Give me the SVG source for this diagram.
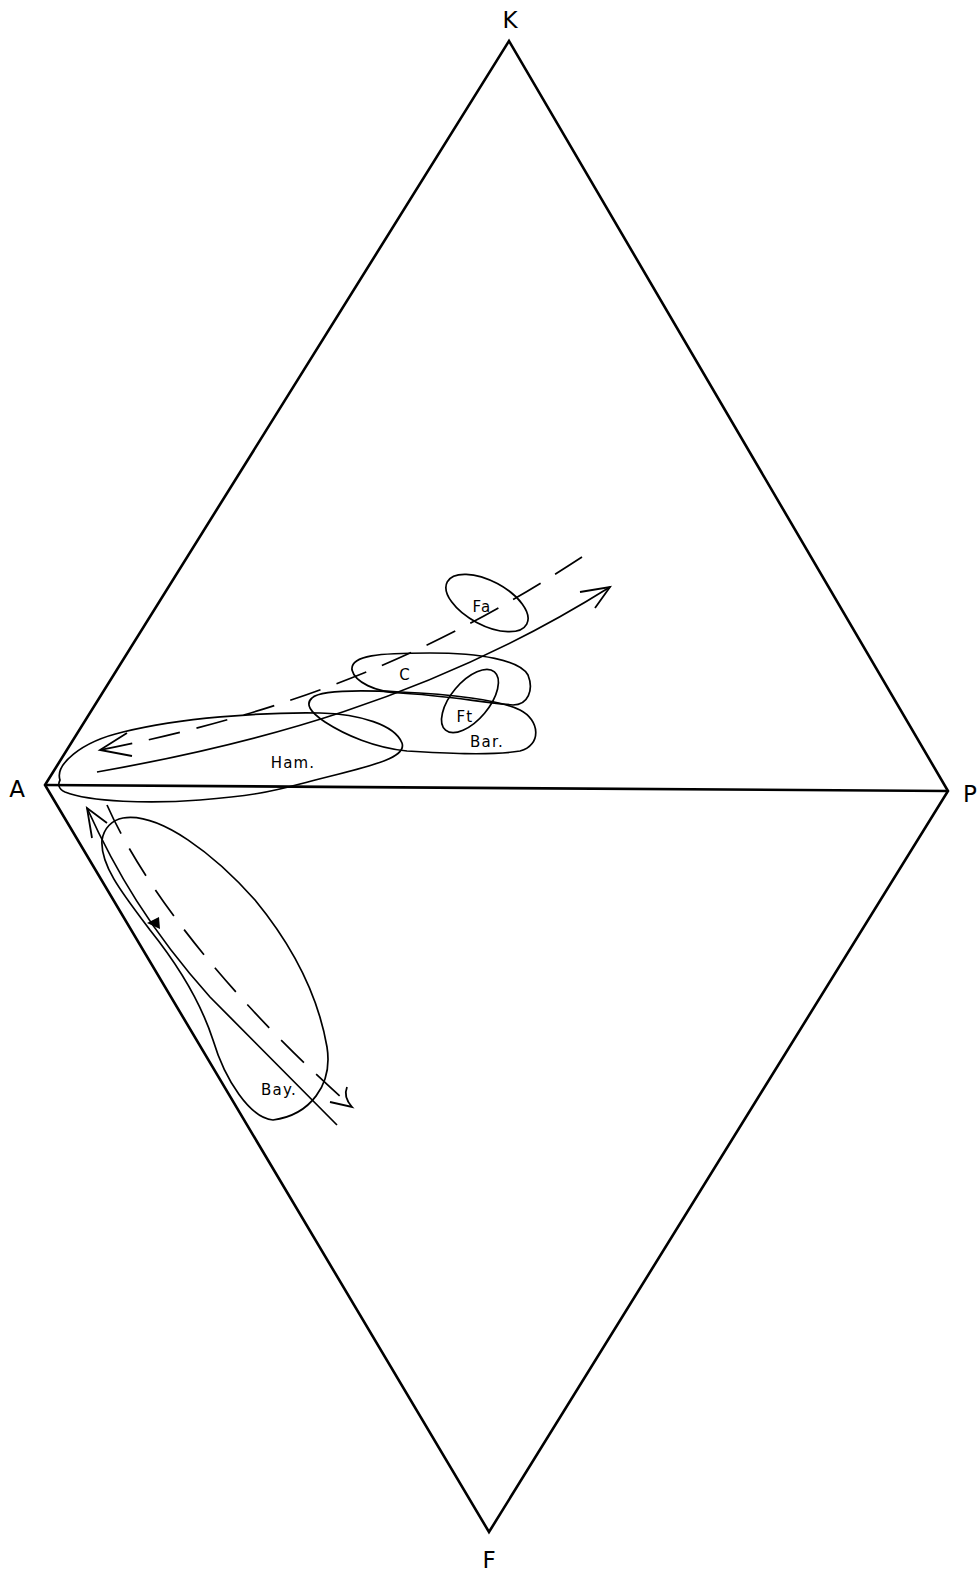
<svg xmlns="http://www.w3.org/2000/svg" width="980" height="1574" viewBox="0 0 980 1574">
<style>
.frame{fill:none;stroke:#000;stroke-width:2.6;stroke-linejoin:miter}
.field{fill:none;stroke:#000;stroke-width:1.7;stroke-linejoin:round}
.conn{fill:none;stroke:#000;stroke-width:1.7}
.dash{stroke-dasharray:32 17}
.head{fill:none;stroke:#000;stroke-width:1.8;stroke-linejoin:miter}
.vlab{font-family:"DejaVu Sans","Liberation Sans",sans-serif;font-size:23px;fill:#000;text-anchor:middle}
.flab{font-family:"DejaVu Sans","Liberation Sans",sans-serif;font-size:15px;fill:#000;text-anchor:middle;letter-spacing:1.2px}
</style>
<rect width="980" height="1574" fill="#fff"/>
<g id="frame">
<path class="frame" d="M45,785 L509,41 L948,791 L489,1532 Z"/>
<line class="frame" x1="45" y1="785" x2="948" y2="791"/>
<text class="vlab" x="510" y="28">K</text>
<text class="vlab" x="17" y="797">A</text>
<text class="vlab" x="970" y="802">P</text>
<text class="vlab" x="489" y="1568">F</text>
</g>
<g id="ham">
<path class="field" d="M60,780 C55,765 80,742 123,732 C180,718 260,712 320,713 C360,714 395,725 402,743 C408,760 360,768 300,784 C270,792 250,796 200,800 C150,804 90,802 65,792 C58,789 58,784 60,780 Z"/>
<text class="flab" x="293" y="768">Ham.</text>
</g>
<g id="bar">
<path class="field" d="M312,698 C320,690 360,690 400,692 C450,694 500,700 520,710 C540,720 542,745 520,751 C490,756 440,753 407,751 C375,748 345,735 325,722 C310,712 305,704 312,698 Z"/>
<text class="flab" x="487" y="747">Bar.</text>
</g>
<g id="c">
<path class="field" d="M352,670 C350,655 380,653 430,653 C480,653 520,660 528,675 C534,690 528,705 513,705 C480,702 440,695 400,693 C375,692 355,682 352,670 Z"/>
<text class="flab" x="405" y="680">C</text>
</g>
<g id="ft">
<ellipse class="field" cx="470" cy="701" rx="38" ry="19" transform="rotate(-50 470 701)"/>
<text class="flab" x="465" y="722">Ft</text>
</g>
<g id="fa">
<ellipse class="field" cx="487" cy="603" rx="45" ry="22" transform="rotate(28 487 603)"/>
<text class="flab" x="482" y="612">Fa</text>
</g>
<g id="bay">
<path class="field" d="M123,818 C160,812 215,855 255,900 C292,945 318,995 327,1047 C333,1085 310,1115 273,1120 C250,1118 225,1080 213,1040 C200,1000 178,965 150,930 C122,893 100,865 102,840 C104,828 112,820 123,818 Z"/>
<text class="flab" x="279" y="1095">Bay.</text>
</g>
<g id="connectors">
<path class="conn dash" d="M582,557 C470,630 330,705 100,750"/>
<path class="head" d="M127,733 L100,750 L132,756"/>
<path class="conn" d="M97,772 C250,745 430,700 610,587"/>
<path class="head" d="M580,592 L610,587 L595,608"/>
<path class="conn" d="M87,808 C115,870 150,930 210,997 L337,1125"/>
<path class="head" d="M92,838 L87,808 L107,823"/>
<path d="M147,923 L159,917 L160,929 Z" fill="#000"/>
<path class="conn dash" d="M107,805 C140,880 220,990 352,1107"/>
<path class="head" d="M330,1102 L352,1107 Q343,1097 347,1087"/>
</g>
</svg>
